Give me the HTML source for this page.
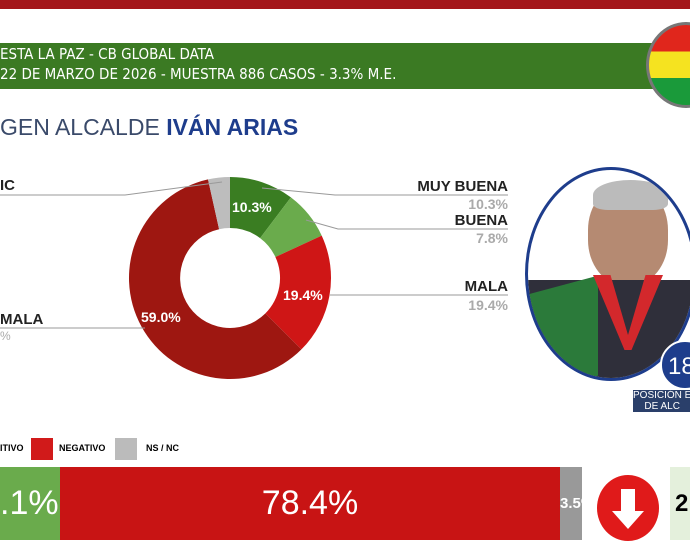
<!DOCTYPE html>
<html><head><meta charset="utf-8"><style>
body{margin:0;width:690px;height:550px;overflow:hidden;background:#fff;font-family:"Liberation Sans",sans-serif;position:relative}
.a{position:absolute;white-space:nowrap}
</style></head><body>
<div class="a" style="left:0;top:0;width:690px;height:9px;background:#a4161a"></div>
<div class="a" style="left:0;top:43px;width:690px;height:46px;background:#3b7a23"></div>
<div class="a" style="left:0;top:44px;color:#fff;font-size:15px;line-height:20px;font-family:'DejaVu Sans Condensed','Liberation Sans',sans-serif">ESTA LA PAZ - CB GLOBAL DATA<br>22 DE MARZO DE 2026 - MUESTRA 886 CASOS - 3.3% M.E.</div>
<div class="a" style="left:646px;top:22px;width:80px;height:86px;border-radius:50%;background:linear-gradient(#e0261c 0,#e0261c 33%,#f5e320 33%,#f5e320 66%,#1a9a3a 66%);border:3px solid #777;box-sizing:border-box"></div>
<div class="a" style="left:0;top:114px;font-size:23px;color:#3a4a6a"><span style="font-weight:300">GEN ALCALDE</span> <b style="color:#1e3d8c">IVÁN ARIAS</b></div>
<svg class="a" style="left:0;top:0" width="690" height="550">
<path d="M230 177 A101 101 0 0 1 290.9 197.4 L260.1 238.1 A50 50 0 0 0 230 228Z" fill="#3a7d22"/>
<path d="M290.9 197.4 A101 101 0 0 1 321.7 235.6 L275.4 257 A50 50 0 0 0 260.1 238.1Z" fill="#6aab4c"/>
<path d="M321.7 235.6 A101 101 0 0 1 301.4 349.4 L265.4 313.4 A50 50 0 0 0 275.4 257Z" fill="#cf1616"/>
<path d="M301.4 349.4 A101 101 0 1 1 208 179.4 L219.1 229.2 A50 50 0 1 0 265.4 313.4Z" fill="#9e1711"/>
<path d="M208 179.4 A101 101 0 0 1 230 177 L230 228 A50 50 0 0 0 219.1 229.2Z" fill="#bdbdbd"/>
<g stroke="#999" fill="none" stroke-width="1"><polyline points="0,195 125,195 222,182"/><polyline points="262,188 335,195 508,195"/><polyline points="306,220 338,229 508,229"/><polyline points="330,295 508,295"/><polyline points="0,328 145,328"/></g>
<g font-weight="bold" font-size="14" fill="#fff"><text x="232" y="212">10.3%</text><text x="283" y="300">19.4%</text><text x="141" y="322">59.0%</text></g>
<g font-weight="bold" font-size="15" fill="#222" text-anchor="end"><text x="508" y="191">MUY BUENA</text><text x="508" y="225">BUENA</text><text x="508" y="291">MALA</text></g>
<g font-weight="bold" font-size="14" fill="#aaa" text-anchor="end"><text x="508" y="209">10.3%</text><text x="508" y="243">7.8%</text><text x="508" y="310">19.4%</text></g>
<text x="0" y="190" font-weight="bold" font-size="15" fill="#222">IC</text>
<text x="0" y="324" font-weight="bold" font-size="15" fill="#222">MALA</text>
<text x="0" y="340" font-size="12" fill="#aaa">%</text>
</svg>
<div class="a" style="left:525px;top:167px;width:172px;height:214px;border-radius:50%;border:3px solid #1e3d8c;box-sizing:border-box;overflow:hidden;background:#fff">
<div class="a" style="left:60px;top:15px;width:80px;height:100px;border-radius:45%;background:#b58a72"></div>
<div class="a" style="left:65px;top:10px;width:75px;height:30px;border-radius:50% 50% 20% 20%;background:#bbb"></div>
<div class="a" style="left:0;top:110px;width:172px;height:110px;background:#2f2f3a"></div>
<div class="a" style="left:0;top:115px;width:70px;height:100px;background:#2b7a3a;transform:skewY(-15deg)"></div>
<div class="a" style="left:65px;top:105px;width:70px;height:75px;background:#d3282c;clip-path:polygon(0 0,25% 0,50% 80%,75% 0,100% 0,55% 100%,45% 100%)"></div>
</div>
<div class="a" style="left:660px;top:340px;width:50px;height:50px;border-radius:50%;background:#1e3d8c;border:2px solid #fff;color:#fff;font-size:24px;line-height:50px;padding-left:6px;box-sizing:border-box">18</div>
<div class="a" style="left:633px;top:390px;background:#2a3f6a;color:#fff;font-size:10px;line-height:11px;text-align:center">POSICIÓN E<br>DE ALC</div>
<div class="a" style="left:0;top:443px;font-size:9px;font-weight:bold">ITIVO</div>
<div class="a" style="left:31px;top:438px;width:22px;height:22px;background:#d11a1a"></div>
<div class="a" style="left:59px;top:443px;font-size:9px;font-weight:bold">NEGATIVO</div>
<div class="a" style="left:115px;top:438px;width:22px;height:22px;background:#bbb"></div>
<div class="a" style="left:146px;top:443px;font-size:9px;font-weight:bold">NS / NC</div>
<div class="a" style="left:0;top:467px;width:60px;height:73px;background:#6aab4c;color:#fff;font-size:34px;line-height:73px">.1%</div>
<div class="a" style="left:60px;top:467px;width:500px;height:73px;background:#c81414;color:#fff;font-size:34px;line-height:73px;text-align:center">78.4%</div>
<div class="a" style="left:560px;top:467px;width:22px;height:73px;background:#999;color:#fff;font-size:15px;font-weight:bold;line-height:73px;overflow:hidden">3.5%</div>
<div class="a" style="left:597px;top:475px;width:62px;height:66px;border-radius:50%;background:#e01a1a"></div>
<svg class="a" style="left:597px;top:475px" width="62" height="66"><path d="M24 14 H38 V36 H47 L31 54 L15 36 H24Z" fill="#fff"/></svg>
<div class="a" style="left:670px;top:467px;width:20px;height:73px;background:#e4f0dc;font-size:24px;font-weight:bold;line-height:73px;padding-left:5px;box-sizing:border-box">2</div>
</body></html>
